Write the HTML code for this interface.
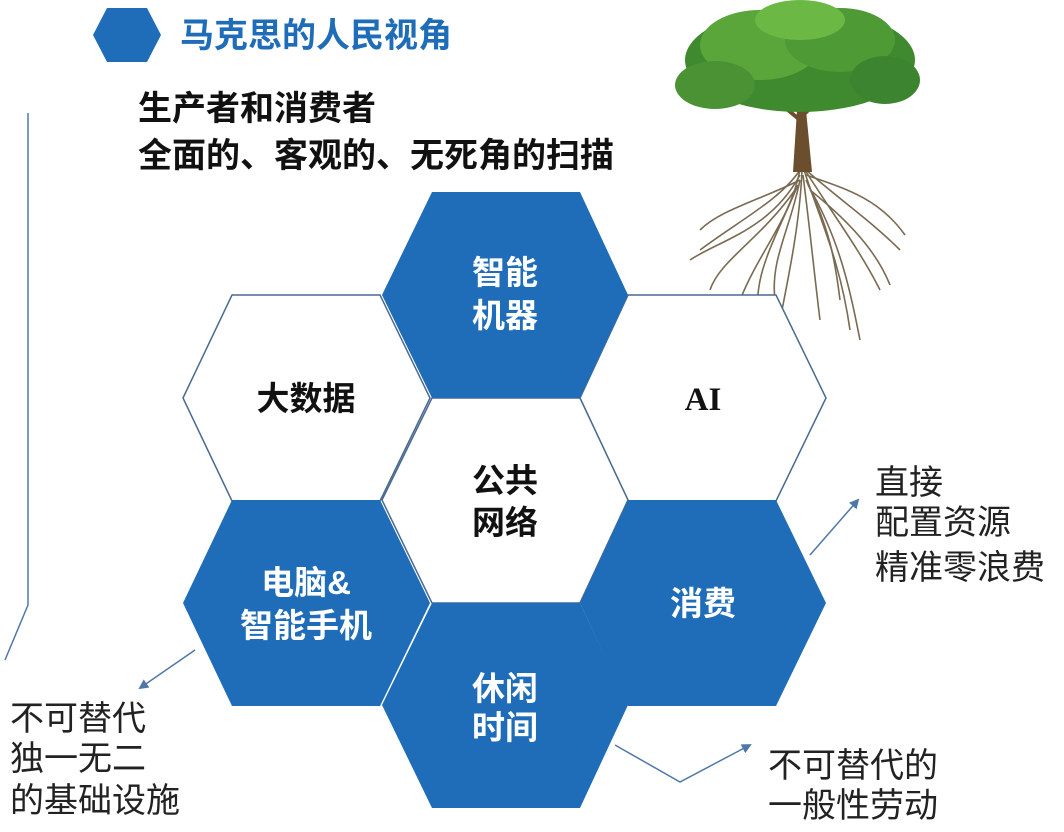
<!DOCTYPE html>
<html><head><meta charset="utf-8"><style>
html,body{margin:0;padding:0;background:#fff;}
body{width:1064px;height:832px;overflow:hidden;position:relative;font-family:"Liberation Sans","Noto Sans CJK SC",sans-serif;}
</style></head><body>
<svg width="1064" height="832" viewBox="0 0 1064 832" xmlns="http://www.w3.org/2000/svg" style="position:absolute;left:0;top:0">
<defs>
<marker id="ah" markerWidth="10" markerHeight="10" refX="8" refY="5" orient="auto" markerUnits="userSpaceOnUse"><path d="M0,0 L10,5 L0,10 z" fill="#4f78a8"/></marker>
</defs>
<g font-family="Liberation Sans, Noto Sans CJK SC, sans-serif">
<polygon points="93,35 107,8 147,8 161,35 147,62 107,62" fill="#1f6db8"/>
<text x="180" y="47" font-size="34" font-weight="bold" fill="#1f6db8">马克思的人民视角</text>
<text x="138" y="120" font-size="34" font-weight="bold" fill="#111">生产者和消费者</text>
<text x="138" y="167" font-size="34" font-weight="bold" fill="#111">全面的、客观的、无死角的扫描</text>
<polyline points="28,113 28,605 5,660" fill="none" stroke="#4f78a8" stroke-width="1.5"/>
<g>
<g stroke="#6b5a40" stroke-width="1.6" fill="none" opacity="0.9">
<path d="M800,170 C780,200 740,220 700,250"/><path d="M800,170 C790,220 760,250 740,300"/>
<path d="M802,170 C800,220 790,270 780,320"/><path d="M804,170 C820,220 840,260 850,330"/>
<path d="M806,170 C840,200 870,220 900,250"/><path d="M805,170 C830,210 860,250 880,290"/>
<path d="M800,175 C770,230 720,240 690,260"/><path d="M803,175 C810,230 815,280 820,320"/>
<path d="M800,180 C760,200 720,210 700,230"/><path d="M806,175 C850,190 880,200 905,235"/>
<path d="M798,185 C770,250 750,280 760,330"/><path d="M808,185 C840,240 850,290 860,340"/>
<path d="M795,190 C760,240 720,260 710,290"/><path d="M810,190 C860,230 880,260 890,285"/>
<path d="M800,180 C790,230 770,260 775,300"/><path d="M806,180 C830,230 835,260 840,300"/>
</g>
<path d="M797,110 L793,172 L812,172 L806,110 Z" fill="#6b4e2e"/>
<path d="M800,120 L770,95 M803,115 L830,90" stroke="#6b4e2e" stroke-width="4"/>
<ellipse cx="800" cy="60" rx="115" ry="52" fill="#3f8a2e"/>
<ellipse cx="760" cy="45" rx="60" ry="35" fill="#5aa63a"/>
<ellipse cx="840" cy="40" rx="55" ry="32" fill="#4e9a34"/>
<ellipse cx="800" cy="20" rx="45" ry="20" fill="#6cb845"/>
<ellipse cx="715" cy="85" rx="40" ry="24" fill="#4a9234"/>
<ellipse cx="885" cy="80" rx="35" ry="24" fill="#3d8430"/>
</g>
<g stroke="#4a6a90" stroke-width="1.5">
<polygon points="183,398 232,295 380,295 430,398 380,501 232,501" fill="#fff"/>
<polygon points="580,398 628,295 776,295 826,398 776,501 628,501" fill="#fff"/>
<polygon points="382,500 432,398 580,398 628,500 580,603 432,603" fill="#fff"/>
</g>
<g fill="#1f6db8">
<polygon points="382,295 432,192 580,192 628,295 580,398 432,398"/>
<polygon points="183,603 232,500 380,500 430,603 380,706 232,706"/>
<polygon points="580,603 628,500 776,500 826,603 776,706 628,706"/>
<polygon points="382,705 432,603 580,603 628,705 580,808 432,808"/>
</g>
<g font-weight="bold" text-anchor="middle" font-size="33">
<text x="505" y="284" fill="#fff">智能</text><text x="505" y="327" fill="#fff">机器</text>
<text x="306" y="410" fill="#111">大数据</text>
<text x="703" y="410" fill="#111" font-family="Liberation Serif, serif">AI</text>
<text x="505" y="492" fill="#111">公共</text><text x="505" y="534" fill="#111">网络</text>
<text x="306" y="594" fill="#fff">电脑&amp;</text><text x="306" y="637" fill="#fff">智能手机</text>
<text x="703" y="615" fill="#fff">消费</text>
<text x="505" y="700" fill="#fff">休闲</text><text x="505" y="739" fill="#fff">时间</text>
</g>
<g stroke="#4f78a8" stroke-width="1.5" fill="none">
<line x1="195" y1="650" x2="140" y2="688" marker-end="url(#ah)"/>
<line x1="810" y1="555" x2="858" y2="500" marker-end="url(#ah)"/>
<polyline points="615,745 680,782 750,745" marker-end="url(#ah)"/>
</g>
<g font-size="34" fill="#222">
<text x="875" y="494">直接</text><text x="875" y="534">配置资源</text><text x="875" y="579">精准零浪费</text>
<text x="10" y="730">不可替代</text><text x="10" y="770">独一无二</text><text x="10" y="812">的基础设施</text>
<text x="768" y="777">不可替代的</text><text x="768" y="817">一般性劳动</text>
</g>
</g>
</svg>
</body></html>
